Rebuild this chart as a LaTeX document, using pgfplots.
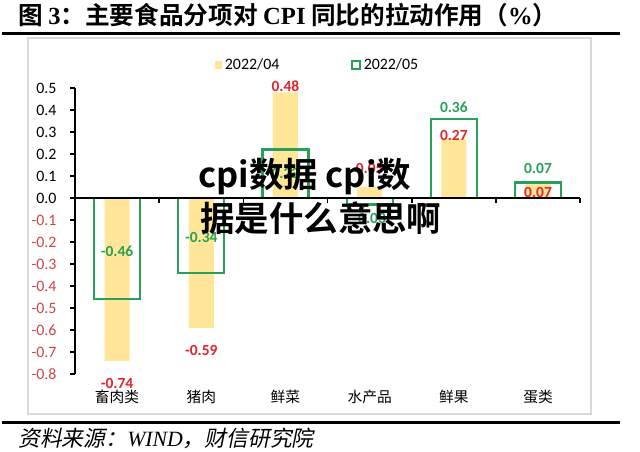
\documentclass[border=0pt]{standalone}
\usepackage{fontspec}
\setmainfont{Carlito}
\newfontfamily\cjk{Noto Sans CJK SC}[BoldFont={Noto Sans CJK SC Bold}]
\newfontfamily\cjksl{Noto Sans CJK SC}[FakeSlant=0.2]
\newfontfamily\serif{Liberation Serif}
\usepackage{pgfplots}
\pgfplotsset{compat=1.18}
\definecolor{barY}{RGB}{255,230,153}
\definecolor{boxG}{RGB}{40,160,90}
\definecolor{labR}{RGB}{225,35,45}
\definecolor{tickR}{RGB}{205,70,70}
\definecolor{frameG}{RGB}{217,217,217}
\begin{document}
\begin{tikzpicture}
\begin{axis}[
  scale only axis,
  width=12.625cm, height=7.15cm,
  xmin=-0.5, xmax=5.5, ymin=-0.8, ymax=0.5,
  clip=false,
  axis x line*=bottom, axis y line*=left,
  x axis line style={draw=none},
  xtick={0,1,2,3,4,5},
  xticklabels={{\cjk 畜肉类},{\cjk 猪肉},{\cjk 鲜菜},{\cjk 水产品},{\cjk 鲜果},{\cjk 蛋类}},
  xtick style={draw=none},
  xticklabel style={anchor=center, yshift=-0.45cm, font=\fontsize{10.5}{12}\selectfont},
  ytick={-0.8,-0.7,-0.6,-0.5,-0.4,-0.3,-0.2,-0.1,0,0.1,0.2,0.3,0.4,0.5},
  yticklabels={\textcolor{tickR}{-0.8},\textcolor{tickR}{-0.7},\textcolor{tickR}{-0.6},\textcolor{tickR}{-0.5},\textcolor{tickR}{-0.4},\textcolor{tickR}{-0.3},\textcolor{tickR}{-0.2},\textcolor{tickR}{-0.1},0.0,0.1,0.2,0.3,0.4,0.5},
  y axis line style={line width=1.8pt},
  ytick style={line width=1.4pt, black},
  major tick length=0.125cm, tick align=outside,
  yticklabel style={font=\fontsize{11.3}{13}\selectfont, anchor=east, inner sep=0pt, xshift=-0.33cm},
  legend style={draw=none, fill=none, at={(0.481,1.08)}, anchor=center, legend columns=2,
    font=\fontsize{11.3}{13}\selectfont, /tikz/every even column/.append style={column sep=1.72cm}},
  legend cell align=left,
]
\addplot[ybar, bar width=0.625cm, bar shift=0pt, fill=barY, draw=none,
  legend image code/.code={\fill[barY] (0cm,-0.09cm) rectangle (0.18cm,0.09cm);}]
  coordinates {(0,-0.74) (1,-0.59) (2,0.48) (3,0.05) (4,0.27) (5,0.07)};
\addlegendentry{2022/04}
\addplot[ybar, bar width=1.15cm, bar shift=0pt, fill=none, draw=boxG, line width=1.6pt,
  legend image code/.code={\draw[boxG, line width=1.4pt] (0cm,-0.1cm) rectangle (0.2cm,0.1cm);}]
  coordinates {(0,-0.46) (1,-0.34) (2,0.22) (3,-0.03) (4,0.36) (5,0.07)};
\addlegendentry{2022/05}
\draw[black, line width=1.5pt] (axis cs:-0.5,0) -- (axis cs:5.5,0);
\pgfplotsinvokeforeach{0.5,1.5,2.5,3.5,4.5,5.5}{\draw[black, line width=1.2pt] (axis cs:#1,0) -- ++(0pt,-3.6pt);}
\begin{scope}[every node/.style={font=\bfseries\fontsize{11}{13}\selectfont, text=labR}]
\node at (axis cs:0,-0.845) {-0.74};
\node at (axis cs:1,-0.695) {-0.59};
\node at (axis cs:2,0.509) {0.48};
\node at (axis cs:3,0.136) {0.05};
\node at (axis cs:4,0.286) {0.27};
\node at (axis cs:5,0.023) {0.07};
\end{scope}
\begin{scope}[every node/.style={font=\bfseries\fontsize{11}{13}\selectfont, text=boxG}]
\node at (axis cs:0,-0.241) {-0.46};
\node at (axis cs:1,-0.18) {-0.34};
\node at (axis cs:2,0.11) {0.22};
\node at (axis cs:3,-0.095) {-0.03};
\node at (axis cs:4,0.414) {0.36};
\node at (axis cs:5,0.136) {0.07};
\end{scope}
\coordinate (O) at (axis cs:-0.5,-0.8);
\end{axis}
\begin{scope}[shift={(O)}, x=0.025cm, y=0.025cm, shift={(-75,-78)}]
\draw[frameG, line width=1.5pt] (28,38) rectangle (591,414);
\fill[black] (2,417) rectangle (620,420);
\fill[black] (2,28) rectangle (620,31);
\node[anchor=west, inner sep=0pt, font=\cjk\bfseries\fontsize{24.5}{28}\selectfont] at (198,275) {cpi数据 cpi数};
\node[anchor=west, inner sep=0pt, font=\cjk\bfseries\fontsize{24.5}{28}\selectfont] at (200,234) {据是什么意思啊};
\node[anchor=west, inner sep=0pt] at (18,437) {\cjk\bfseries\fontsize{17.5}{20}\selectfont 图 {\serif\bfseries 3}：主要食品分项对 {\serif\bfseries CPI} 同比的拉动作用（{\serif\bfseries\%}）};
\node[anchor=west, inner sep=0pt] at (18,14) {\cjksl\fontsize{15.5}{17}\selectfont 资料来源：{\serif\itshape WIND}，财信研究院};
\path[use as bounding box] (0,0) rectangle (640,452);
\end{scope}
\end{tikzpicture}
\end{document}
